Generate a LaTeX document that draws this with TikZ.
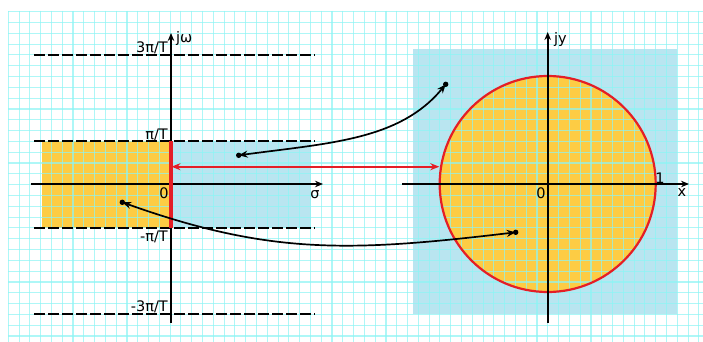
\documentclass[tikz,border=0pt]{standalone}
\usepackage{fontspec}
\setmainfont{DejaVu Sans}
\usetikzlibrary{arrows.meta}
\definecolor{gridc}{RGB}{140,245,245}
\definecolor{orangef}{RGB}{253,204,68}
\definecolor{bluef}{RGB}{185,229,240}
\definecolor{redl}{RGB}{228,30,38}
\begin{document}
\begin{tikzpicture}[x=1pt,y=-1pt,
  gridline/.style={draw=gridc,line width=1.1pt,opacity=0.7},
  axis/.style={draw=black,line width=2pt,-{Stealth[length=8pt,width=6.5pt]}},
  dashln/.style={draw=black,line width=2.3pt,dash pattern=on 10.5pt off 3.5pt},
  lbl/.style={inner sep=0pt,font=\fontsize{14.5}{16}\selectfont},
  curve/.style={draw=black,line width=1.7pt,{Stealth[length=9pt,width=7pt]}-{Stealth[length=9pt,width=7pt]}},
  dotc/.style={fill=black}]
\useasboundingbox (0,0) rectangle (703,342);
\fill[white] (0,0) rectangle (703,342);
% fills
\fill[orangef] (41.7,141.3) rectangle (171,227.7);
\fill[bluef] (171,141.3) rectangle (310.7,227.7);
\fill[bluef] (413.3,49.3) rectangle (677.3,314);
\fill[orangef] (547.7,184) circle[radius=108];
% grid
\foreach \i in {0,...,64} {\draw[gridline] (8.3+10.79*\i,11) -- (8.3+10.79*\i,342);}
\foreach \j in {0,...,30} {\draw[gridline] (8,11.7+10.81*\j) -- (703,11.7+10.81*\j);}
% circle outline
\draw[redl,line width=2.2pt] (547.7,184) circle[radius=108];
% coordinates
\coordinate (wbot) at (171,323);
\coordinate (wtop) at (171,33);
\coordinate (sl) at (30.7,184);
\coordinate (sr) at (323,184);
\coordinate (ybot) at (547.7,323);
\coordinate (ytop) at (547.7,32);
\coordinate (xl) at (402.3,184);
\coordinate (xr) at (689,184);
\coordinate (d3l) at (34.3,55); \coordinate (d3r) at (315,55);
\coordinate (d1l) at (34.3,141.3); \coordinate (d1r) at (315,141.3);
\coordinate (m1l) at (34.3,227.7); \coordinate (m1r) at (315,227.7);
\coordinate (m3l) at (34.3,314); \coordinate (m3r) at (315,314);
\coordinate (rtop) at (171,141.3);
\coordinate (rbot) at (171,227.7);
\coordinate (ral) at (171.5,166.7);
\coordinate (rar) at (439.3,166.7);
\coordinate (p1) at (238.7,155.3);
\coordinate (q1) at (445.7,84.3);
\coordinate (p2) at (122.3,202.3);
\coordinate (q2) at (515.7,232.3);
% dashed lines
\draw[dashln] (d3l) -- (d3r);
\draw[dashln] (d1l) -- (d1r);
\draw[dashln] (m1l) -- (m1r);
\draw[dashln] (m3l) -- (m3r);
% axes
\draw[axis] (sl) -- (sr);
\draw[axis] (wbot) -- (wtop);
\draw[axis] (xl) -- (xr);
\draw[axis] (ybot) -- (ytop);
% red segment
\draw[redl,line width=3.5pt] (rtop) -- (rbot);
% red arrow
\draw[redl,line width=1.7pt,{Stealth[length=9pt,width=7pt]}-{Stealth[length=9pt,width=7pt]}] (ral) -- (rar);
% black curves
\draw[curve] (p1) .. controls (330,143) and (400,140) .. (q1);
\draw[curve] (p2) .. controls (270,255) and (350,252) .. (q2);
\fill[dotc] (p1) circle[radius=2.7];
\fill[dotc] (q1) circle[radius=2.7];
\fill[dotc] (p2) circle[radius=2.7];
\fill[dotc] (q2) circle[radius=2.7];
% labels
\node[lbl,anchor=east] (l3) at (168,48) {3π/T};
\node[lbl,anchor=east] (l1) at (168,135) {π/T};
\node[lbl,anchor=east] (lm1) at (168,237) {-π/T};
\node[lbl,anchor=east] (lm3) at (168,307) {-3π/T};
\node[lbl,anchor=west] (jw) at (176,39) {jω};
\node[lbl] (o1) at (164,193) {0};
\node[lbl] (sig) at (315,195) {σ};
\node[lbl,anchor=west] (jy) at (554,40) {jy};
\node[lbl] (o2) at (541,193) {0};
\node[lbl] (one) at (660,178) {1};
\node[lbl] (xx) at (682,193) {x};
\end{tikzpicture}
\end{document}
